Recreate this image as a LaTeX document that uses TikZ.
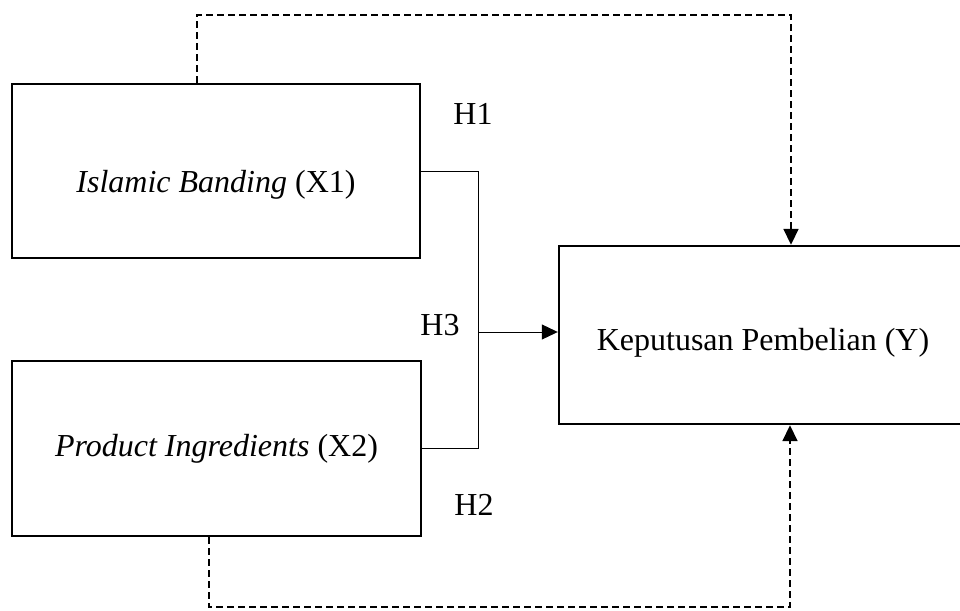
\documentclass[tikz,border=0pt]{standalone}
\usepackage{fontspec}
\setmainfont{Liberation Serif}
\usetikzlibrary{arrows.meta}

\begin{document}
\begin{tikzpicture}[
x=0.5pt, y=-0.5pt,
font=\fontsize{16}{19}\selectfont,
var/.style={rectangle, draw=black, line width=1.2pt, inner sep=0pt},
link/.style={draw=black, line width=0.5pt},
effect/.style={link, -{Triangle[length=8pt, width=7.5pt]}},
indirect/.style={draw=black, line width=0.9pt, dash pattern=on 3.5pt off 2pt,
  -{Triangle[length=8pt, width=7.5pt]}},
hyp/.style={inner sep=0pt},
]
\clip (0,0) rectangle (960,611);
% variables
\node (x1) [var, minimum width=204pt, minimum height=87pt,
  label={[name=x1text, yshift=-7pt]center:{\textit{Islamic Banding} (X1)}}] at (216,171) {};
\node (x2) [var, minimum width=204.5pt, minimum height=87.5pt] at (216.5,448.5)
  {\textit{Product Ingredients} (X2)};
\node (y) [var, minimum width=204pt, minimum height=89pt,
  label={[name=ytext, yshift=-4pt]center:{Keputusan Pembelian (Y)}}] at (763,335) {};
% hypotheses
\node (h1) [hyp] at (473,114) {H1};
\node (h2) [hyp] at (474,505) {H2};
\node (h3) [hyp] at (440,325) {H3};
% joint effect
\coordinate (jm) at (478,332);
\draw[link] (x1.east) -| (jm);
\draw[link] (x2.east) -| (jm);
\draw[effect] (jm) -- (jm -| y.west);
% partial effects
\coordinate (d1) at (197,15);
\coordinate (d2) at (791,15);
\coordinate (d3) at (209,607);
\coordinate (d4) at (790,607);
\draw[indirect] (x1.north -| d1) -- (d1) -- (d2) -- (y.north -| d2);
\draw[indirect] (x2.south -| d3) -- (d3) -- (d4) -- (y.south -| d4);
\end{tikzpicture}
\end{document}
